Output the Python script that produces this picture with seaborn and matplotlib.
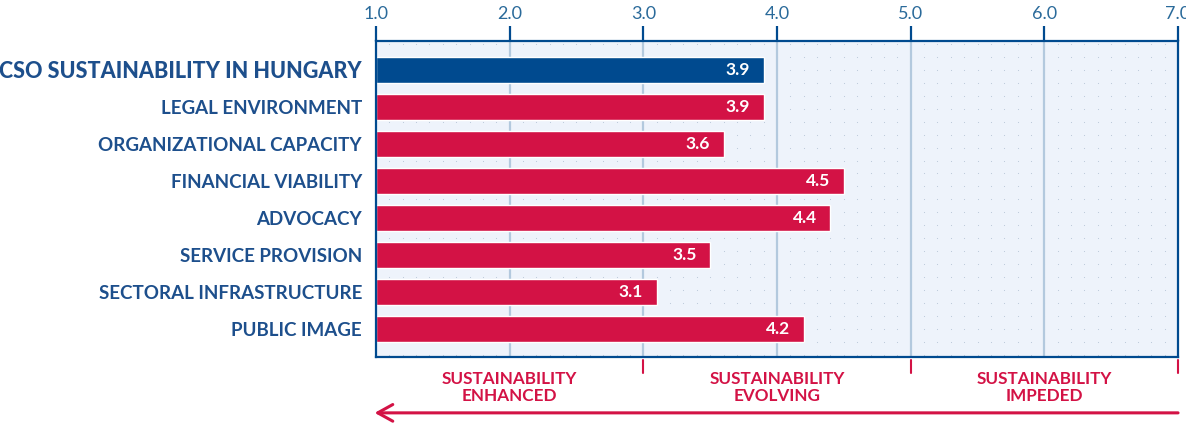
import matplotlib
matplotlib.use("Agg")
import matplotlib.pyplot as plt
import seaborn as sns
import numpy as np
import pandas as pd

categories = ["CSO SUSTAINABILITY IN HUNGARY", "LEGAL ENVIRONMENT", "ORGANIZATIONAL CAPACITY",
              "FINANCIAL VIABILITY", "ADVOCACY", "SERVICE PROVISION",
              "SECTORAL INFRASTRUCTURE", "PUBLIC IMAGE"]
values = [3.9, 3.9, 3.6, 4.5, 4.4, 3.5, 3.1, 4.2]
tick_values = [1.0, 2.0, 3.0, 4.0, 5.0, 6.0, 7.0]
zone_labels = ["SUSTAINABILITY\nENHANCED", "SUSTAINABILITY\nEVOLVING", "SUSTAINABILITY\nIMPEDED"]
zone_centers = [2.0, 4.0, 6.0]
zone_edges = [3.0, 5.0, 7.0]

NAVY = "#004a8f"
RED = "#d31245"
LABEL = "#1d4f8c"
TICKC = "#2a6a9a"
BG = "#eef3fb"

sns.set_theme(style="white")
plt.rcParams["font.family"] = ["Lato", "DejaVu Sans"]

df = pd.DataFrame({"cat": categories, "val": values})
colors = [NAVY] + [RED] * (len(categories) - 1)

fig = plt.figure(figsize=(11.86, 4.28), dpi=100)
ax = fig.add_axes([0.317, 0.166, 0.9933 - 0.317, 0.904 - 0.166])
ax.set_facecolor(BG)

# dotted background pattern
gx, gy = np.meshgrid(np.arange(1.1, 7.0, 0.1), np.arange(-0.7, 7.8, 0.35))
ax.scatter(gx.ravel(), gy.ravel(), s=0.6, color="#b8c6d8", zorder=0.5, linewidths=0)

for t in tick_values[1:-1]:
    ax.axvline(t, color="#b3c9de", lw=1.6, zorder=0.8)

sns.barplot(data=df, y="cat", x="val", hue="cat", palette=colors, legend=False,
            orient="h", width=0.7, ax=ax, saturation=1, zorder=2)
# bars start at 1.0
for patch, v in zip(ax.patches, values):
    patch.set_x(1.0)
    patch.set_width(v - 1.0)

for i, v in enumerate(values):
    ax.text(v - 0.1, i, f"{v:.1f}", color="white", fontweight="bold", fontsize=12.5,
            ha="right", va="center", zorder=3)

ax.set_xlim(1.0, 7.0)
ax.set_ylim(7.76, -0.78)
ax.set_xlabel("")
ax.set_ylabel("")

ax.xaxis.tick_top()
ax.set_xticks(tick_values)
ax.set_xticklabels([f"{t:.1f}" for t in tick_values], color=TICKC, fontsize=13)
ax.tick_params(axis="x", which="major", direction="out", length=11, width=1.6,
               color=NAVY, pad=3, top=True, bottom=False)
ax.tick_params(axis="y", length=0, pad=10)
for lbl, cat in zip(ax.get_yticklabels(), categories):
    lbl.set_color(LABEL)
    if cat.startswith("CSO"):
        lbl.set_fontsize(15.5)
        lbl.set_fontweight("black")
    else:
        lbl.set_fontsize(13.5)
        lbl.set_fontweight("bold")

for side in ["top", "bottom", "left", "right"]:
    ax.spines[side].set_visible(True)
    ax.spines[side].set_color(NAVY)
    ax.spines[side].set_linewidth(1.6)

trans = ax.get_xaxis_transform()
for e in zone_edges:
    ax.plot([e, e], [-0.01, -0.05], transform=trans, color=RED, lw=1.5, clip_on=False)
for c, lab in zip(zone_centers, zone_labels):
    ax.text(c, -0.045, lab, transform=trans, ha="center", va="top", color=RED,
            fontsize=12.3, fontweight="bold", linespacing=1.1)

ax.annotate("", xy=(0.99, -0.177), xytext=(7.0, -0.177),
            xycoords=trans, textcoords=trans,
            arrowprops=dict(arrowstyle="->,head_length=0.9,head_width=0.5",
                            color=RED, lw=2.2, shrinkA=0, shrinkB=0))

fig.savefig("out.png", dpi=100)
